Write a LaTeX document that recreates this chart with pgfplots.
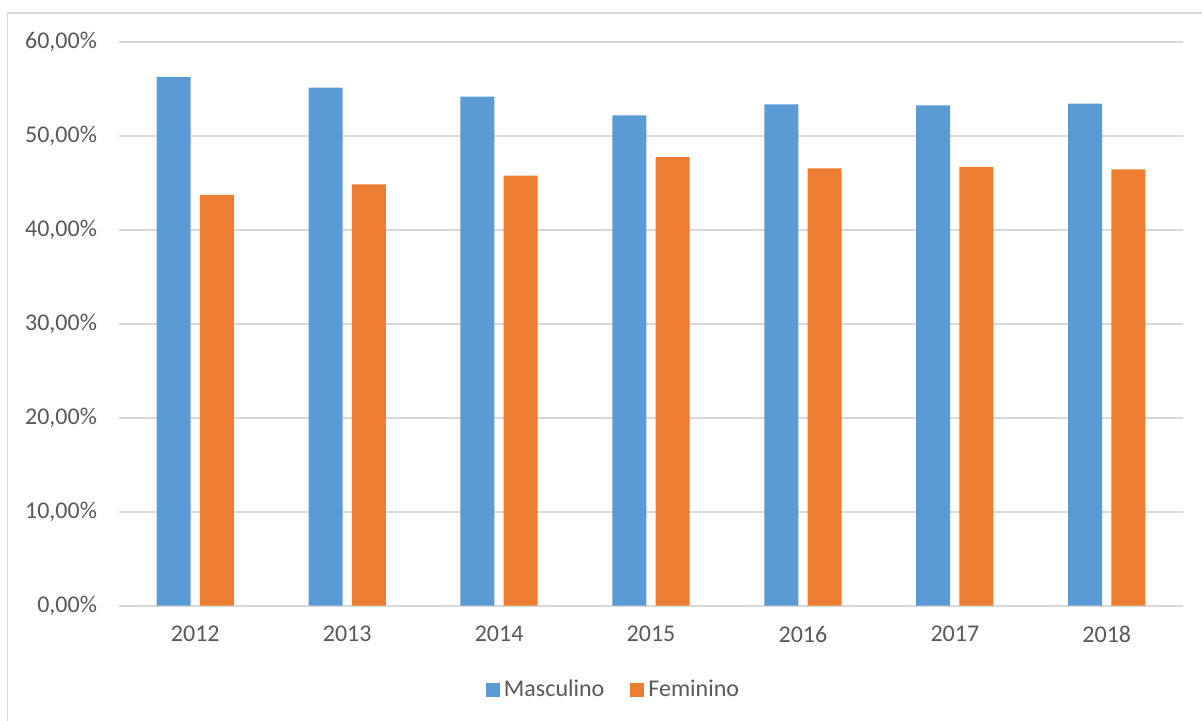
\documentclass[border=0pt]{standalone}
\usepackage{fontspec}
\setmainfont{Carlito}
\usepackage{pgfplots}
\pgfplotsset{compat=1.18}

\definecolor{masc}{HTML}{5B9BD5}
\definecolor{fem}{HTML}{ED7D31}
\definecolor{gridc}{HTML}{D9D9D9}
\definecolor{txt}{HTML}{595959}

\begin{document}
\fontsize{12}{14}\selectfont
\begin{tikzpicture}
\useasboundingbox (-59.65pt,-57.65pt) rectangle (541.35pt,302.85pt);
\draw[gridc,line width=0.6pt] (-55.8pt,-70pt) -- (-55.8pt,296.35pt) -- (560pt,296.35pt);
\begin{axis}[
  scale only axis,
  width=531.7pt, height=281.7pt,
  ybar=4.65pt, bar width=17pt,
  xmin=-0.5, xmax=6.5,
  ymin=0, ymax=60,
  xtick={0,1,2,3,4,5,6},
  xticklabels={2012,2013,2014,2015,2016,2017,2018},
  ytick={0,10,20,30,40,50,60},
  yticklabels={{0,00\%},{10,00\%},{20,00\%},{30,00\%},{40,00\%},{50,00\%},{60,00\%}},
  major tick length=0pt,
  axis line style={draw=none},
  axis x line*=bottom,
  ymajorgrids, grid style={gridc,line width=0.8pt},
  tick label style={text=txt,font=\fontsize{12}{14}\selectfont},
  yticklabel style={xshift=-7pt},
  xticklabel style={yshift=-6pt},
  legend style={at={(0.4657,-0.149)},anchor=center,draw=none,
    font=\fontsize{12}{14}\selectfont,text=txt,
    /tikz/every even column/.append style={column sep=11pt}},
  legend columns=2,
  legend image code/.code={\fill[#1] (0pt,-3.5pt) rectangle (7pt,3.5pt);},
]
\draw[gridc,line width=1pt] (axis cs:-0.5,0) -- (axis cs:6.5,0);
\addplot[fill=masc,draw=none] coordinates {
(0,56.30) (1,55.17) (2,54.21) (3,52.22) (4,53.40) (5,53.29) (6,53.46)};
\addlegendentry{Masculino}
\addplot[fill=fem,draw=none] coordinates {
(0,43.74) (1,44.88) (2,45.79) (3,47.78) (4,46.58) (5,46.72) (6,46.47)};
\addlegendentry{Feminino}
\end{axis}
\end{tikzpicture}
\end{document}
